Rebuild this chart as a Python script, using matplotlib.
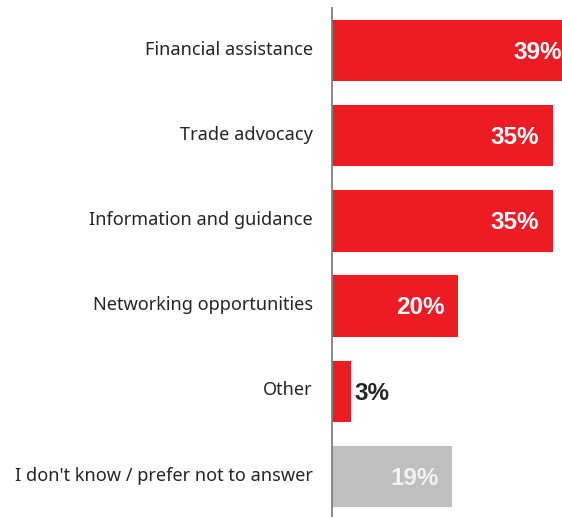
import matplotlib
matplotlib.use("Agg")
import matplotlib.pyplot as plt
from matplotlib.transforms import ScaledTranslation

categories = [
    "Financial assistance",
    "Trade advocacy",
    "Information and guidance",
    "Networking opportunities",
    "Other",
    "I don't know / prefer not to answer",
]
values = [39, 35, 35, 20, 3, 19]
colors = ["#ED1C24", "#ED1C24", "#ED1C24", "#ED1C24", "#ED1C24", "#BFBFBF"]
label_colors = ["white", "white", "white", "white", "#262626", "#F2F2F2"]

fig = plt.figure(figsize=(5.62, 5.17), dpi=100)
ax = fig.add_axes([332 / 562, 0, 1 - 332 / 562, 1 - 8 / 517])

y = list(range(len(categories)))
ax.barh(y, values, height=0.72, color=colors, edgecolor="none")

xmax = 36.5
ax.set_xlim(0, xmax)
ax.set_ylim(5.475, -0.5)

for yi, v, lc in zip(y, values, label_colors):
    txt = f"{v}%"
    if v < 8:
        ax.text(v + 0.5, yi + 0.02, txt, ha="left", va="center", color=lc,
                fontsize=17.5, fontweight="bold", family="Liberation Sans")
    else:
        x = v - 2.1 if v <= xmax else xmax - 0.05
        ax.text(x, yi + 0.02, txt, ha="right", va="center", color=lc,
                fontsize=17.5, fontweight="bold", family="Liberation Sans",
                clip_on=False)

# category names, right-aligned against the axis line
label_tf = ax.get_yaxis_transform() + ScaledTranslation(-19 / 100, 3 / 100, fig.dpi_scale_trans)
for yi, name in zip(y, categories):
    ax.text(0, yi, name, transform=label_tf, ha="right", va="center_baseline",
            fontsize=13.1, family="Noto Sans", color="#262626", clip_on=False)

ax.set_yticks([])
ax.set_xticks([])
for s in ["top", "right", "bottom"]:
    ax.spines[s].set_visible(False)
ax.spines["left"].set_color("#808080")
ax.spines["left"].set_linewidth(1.3)

fig.savefig("out.png", dpi=100)
